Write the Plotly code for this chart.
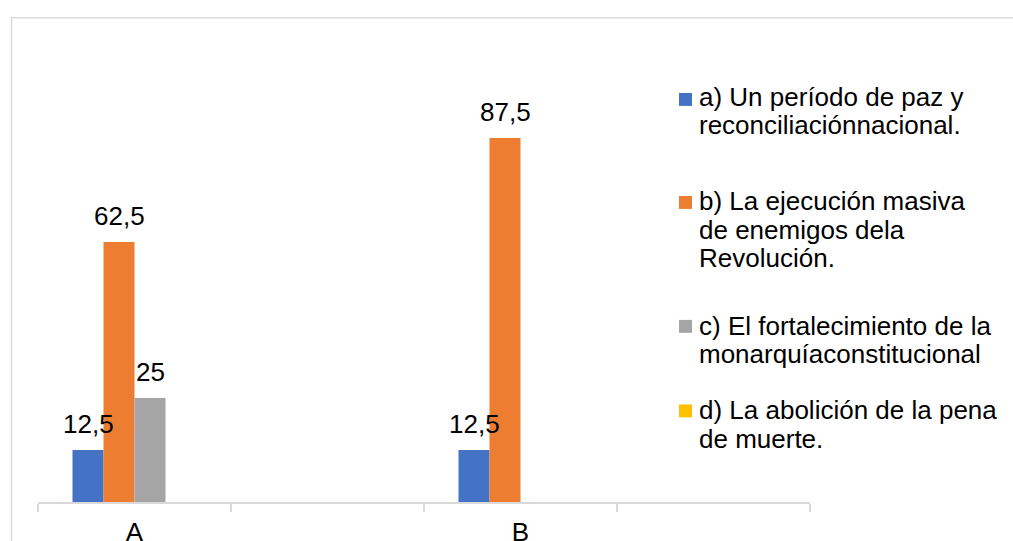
import plotly.graph_objects as go

# ---- data ----
categories = ["A", " ", "B", "  "]
series_names = [
    "a) Un período de paz y reconciliaciónnacional.",
    "b) La ejecución masiva de enemigos dela Revolución.",
    "c) El fortalecimiento de la monarquíaconstitucional",
    "d) La abolición de la pena de muerte.",
]
series_a = [12.5, None, 12.5, None]
series_b = [62.5, None, 87.5, None]
series_c = [25, None, 0, None]
series_d = [0, None, 0, None]
legend_lines = [
    ["a) Un período de paz y", "reconciliaciónnacional."],
    ["b) La ejecución masiva", "de enemigos dela", "Revolución."],
    ["c) El fortalecimiento de la", "monarquíaconstitucional"],
    ["d) La abolición de la pena", "de muerte."],
]
colors = ["#4472C4", "#ED7D31", "#A5A5A5", "#FFC000"]

# ---- layout geometry (reference pixels, then page scale) ----
W, H = 1013, 541
HC = 559                      # page height that maps onto the 541-px picture
S = HC / H
L, R, T, B = 38, 810, 83 * S, 501 * S
FONT = "Liberation Sans, Arial, sans-serif"
FS = 26
BARGAP = 1 - 124 / 193


def px_x(p):
    return (p - L) / (R - L)


def px_y(p):                  # p given in reference-picture pixels
    return (B - p * S) / (B - T)


fig = go.Figure()
all_series = [series_a, series_b, series_c, series_d]
for name, vals, col in zip(series_names, all_series, colors):
    fig.add_trace(go.Bar(x=categories, y=vals, name=name, marker_color=col,
                         marker_line_width=0, showlegend=False))

# data labels (nonzero values) through the axis scales
w = (1 - BARGAP) / len(all_series)
for i, vals in enumerate(all_series):
    for ci, v in enumerate(vals):
        if v:
            txt = ("%g" % v).replace(".", ",")
            fig.add_annotation(x=ci + (i - (len(all_series) - 1) / 2) * w, y=v,
                               xref="x", yref="y", text=txt, showarrow=False,
                               yanchor="bottom", yshift=9,
                               font=dict(family=FONT, size=FS, color="#000000"))

# legend drawn manually (Excel-style wrapped entries)
first_line_y = [96.7, 201.7, 326.7, 411.7]
line_step = 28.5
text_adj = -3
marker_y = [96.5, 200, 324.5, 409.5]
for lines, y0, my, col in zip(legend_lines, first_line_y, marker_y, colors):
    fig.add_shape(type="rect", xref="paper", yref="paper",
                  x0=px_x(679), x1=px_x(692), y0=px_y(my - 6.5), y1=px_y(my + 6.5),
                  fillcolor=col, line_width=0)
    for k, ln in enumerate(lines):
        fig.add_annotation(xref="paper", yref="paper", x=px_x(697),
                           y=px_y(y0 + k * line_step + text_adj), text=ln,
                           showarrow=False, xanchor="left", yanchor="middle",
                           font=dict(family=FONT, size=FS, color="#000000"))

# chart border (top and left edges; the rest lies outside the picture)
fig.add_shape(type="path", xref="paper", yref="paper",
              path="M %f,%f L %f,%f L %f,%f" % (px_x(11.5), px_y(H),
                                               px_x(11.5), px_y(14.5),
                                               px_x(W), px_y(14.5)),
              line=dict(color="#D9D9D9", width=1.5), layer="below")

fig.update_layout(
    width=W, height=HC,
    margin=dict(l=L, r=W - R, t=T, b=HC - B, pad=0),
    paper_bgcolor="#FFFFFF", plot_bgcolor="#FFFFFF",
    barmode="group", bargap=BARGAP, bargroupgap=0,
    showlegend=False,
    font=dict(family=FONT, size=FS, color="#000000"),
    xaxis=dict(type="category", categoryorder="array", categoryarray=categories,
               range=[-0.5, 3.5], showline=True, linecolor="#D9D9D9", linewidth=1.5,
               ticks="outside", ticklen=8, tickcolor="#D9D9D9", tickwidth=1.5,
               tickson="boundaries", showgrid=False, zeroline=False,
               ticklabelstandoff=6,
               tickfont=dict(family=FONT, size=FS, color="#000000")),
    yaxis=dict(range=[0, 100], visible=False, showgrid=False, zeroline=False),
)

post = "document.body.style.margin='0';"
fig.write_html("out.html", config={"displayModeBar": False}, post_script=post)
